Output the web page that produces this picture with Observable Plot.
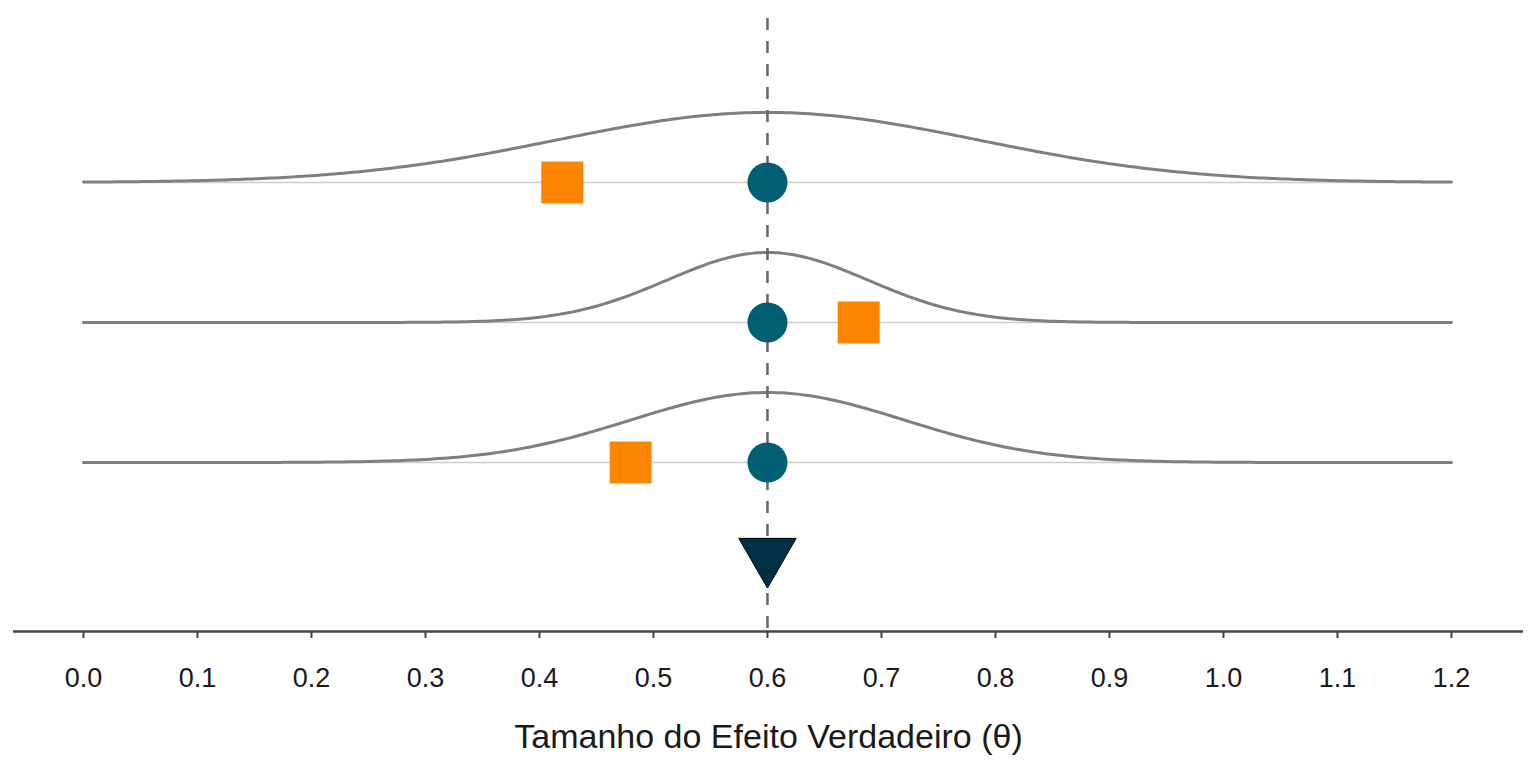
<!DOCTYPE html>
<html>
<head>
<meta charset="utf-8">
<script src="https://cdn.jsdelivr.net/npm/d3@7"></script>
<script src="https://cdn.jsdelivr.net/npm/@observablehq/plot@0.6"></script>
<style>
  html, body { margin: 0; padding: 0; background: #ffffff; }
  #chart svg { display: block; font-family: "Liberation Sans", Arial, sans-serif; }
</style>
</head>
<body>
<div id="chart"></div>
<script>
// Study rows (top to bottom) and their prior/posterior curves
const rowPos = [3, 2, 1];
const densityMean = [0.6, 0.6, 0.6];
const densitySd = [0.185, 0.088, 0.12];
// Observed estimates (squares) and the true effect (circles, dashed line, triangle)
const observed = [0.42, 0.68, 0.48];
const trueEffect = 0.6;
const pooledRow = 0.34;
// Axis
const xTicks = [0, 0.1, 0.2, 0.3, 0.4, 0.5, 0.6, 0.7, 0.8, 0.9, 1.0, 1.1, 1.2];
const xLabel = "Tamanho do Efeito Verdadeiro (θ)";

const xMin = 0, xMax = 1.2;
const curveHeight = 0.5;
const yBottom = -0.207, yTop = 4.171;

// Normal density curves, each scaled to the same peak height above its row
const grid = d3.range(0, 301).map(k => xMin + k * (xMax - xMin) / 300);
const curves = rowPos.flatMap((r, i) =>
  grid.map(x => ({
    row: r,
    x,
    y: r + curveHeight * Math.exp(-0.5 * ((x - densityMean[i]) / densitySd[i]) ** 2)
  }))
);
const baselines = rowPos.map(r => ({y: r, x1: xMin, x2: xMax}));
const squares = rowPos.map((r, i) => ({x: observed[i], y: r}));
const circles = rowPos.map(r => ({x: trueEffect, y: r}));

const chart = Plot.plot({
  width: 1536,
  height: 768,
  marginLeft: 13,
  marginRight: 13,
  marginTop: 18,
  marginBottom: 137,
  x: {domain: [-0.0614, 1.2632]},
  y: {domain: [yBottom, yTop], axis: null},
  marks: [
    Plot.ruleY(baselines, {y: "y", x1: "x1", x2: "x2", stroke: "#cccccc", strokeWidth: 1.6}),
    Plot.line(curves, {x: "x", y: "y", z: "row", stroke: "#7f7f7f", strokeWidth: 3}),
    Plot.ruleX([trueEffect], {y1: yTop, y2: yBottom, stroke: "#666666", strokeWidth: 2.5, strokeDasharray: "12,11"}),
    Plot.dot(squares, {x: "x", y: "y", symbol: "square", r: 23.7, fill: "#fb8500"}),
    Plot.dot(circles, {x: "x", y: "y", symbol: "circle", r: 20, fill: "#005f73"}),
    Plot.dot([{x: trueEffect, y: pooledRow}], {x: "x", y: "y", symbol: "triangle", r: 21.3, rotate: 180, fill: "#023047", stroke: "#000000", strokeWidth: 1}),
    Plot.ruleY([yBottom], {stroke: "#444444", strokeWidth: 2.5}),
    Plot.axisX(xTicks, {
      anchor: "bottom",
      tickSize: 7,
      tickPadding: 29,
      tickFormat: d3.format(".1f"),
      fontSize: 27,
      stroke: "#444444",
      strokeWidth: 2,
      fill: "#1a1a1a",
      label: null
    }),
    Plot.text([xLabel], {
      frameAnchor: "bottom",
      lineAnchor: "bottom",
      dy: 116,
      fontSize: 34,
      fill: "#1a1a1a"
    })
  ]
});

document.getElementById("chart").appendChild(chart);
</script>
</body>
</html>
